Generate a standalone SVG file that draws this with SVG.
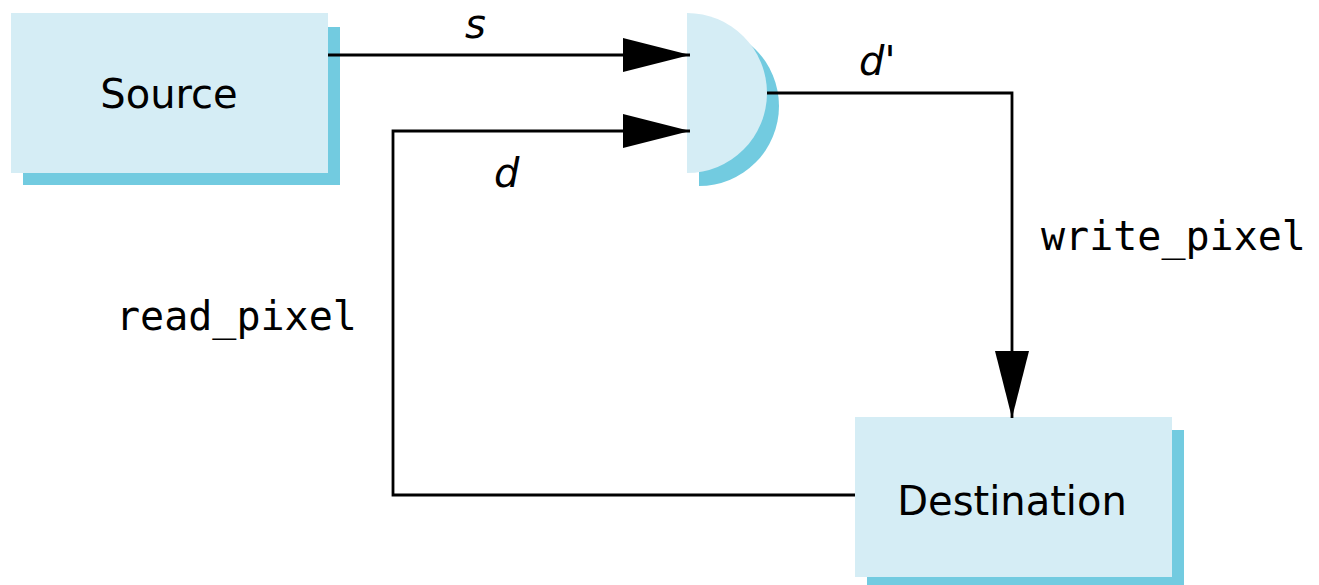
<svg xmlns="http://www.w3.org/2000/svg" width="1319" height="585" viewBox="0 0 1319 585">
  <style>
    .box { fill: #d5edf5; }
    .shadow { fill: #72cbe0; }
    .wire { fill: none; stroke: #000; stroke-width: 2.8; }
    .name { font-family: "DejaVu Sans", "Liberation Sans", sans-serif; font-size: 40px; fill: #000; }
    .var { font-family: "DejaVu Sans", "Liberation Sans", sans-serif; font-style: italic; font-size: 40px; fill: #000; }
    .call { font-family: "DejaVu Sans Mono", "Liberation Mono", monospace; font-size: 40px; fill: #000; }
  </style>
  <defs>
    <marker id="head" markerUnits="userSpaceOnUse" markerWidth="67" markerHeight="34" refX="67" refY="17" orient="auto">
      <path d="M0,0 L67,17 L0,34 Z" fill="#000"/>
    </marker>
  </defs>
  <rect width="1319" height="585" fill="#fff"/>

  <g id="source">
    <rect class="shadow" x="23" y="27" width="317" height="158"/>
    <rect class="box" x="11" y="13" width="317" height="160"/>
    <text class="name" x="169" y="108" text-anchor="middle">Source</text>
  </g>

  <g id="blend">
    <path class="shadow" d="M699,26 A80,80 0 0 1 699,186 Z"/>
    <path class="box" d="M687,13 A80,80 0 0 1 687,173 Z"/>
  </g>

  <g id="destination">
    <rect class="shadow" x="867" y="430" width="317" height="160"/>
    <rect class="box" x="855" y="417" width="317" height="160"/>
    <text class="name" x="1012" y="515" text-anchor="middle">Destination</text>
  </g>

  <g id="connectors">
    <path class="wire" d="M328,55 H690" marker-end="url(#head)"/>
    <path class="wire" d="M855,495 H393 V131 H690" marker-end="url(#head)"/>
    <path class="wire" d="M767,93 H1012 V418" marker-end="url(#head)"/>
  </g>

  <g id="labels">
    <text class="var" x="465" y="38">s</text>
    <text class="var" x="859" y="75">d'</text>
    <text class="var" x="494" y="187">d</text>
    <text class="call" x="116" y="330">read_pixel</text>
    <text class="call" x="1041" y="250">write_pixel</text>
  </g>
</svg>
